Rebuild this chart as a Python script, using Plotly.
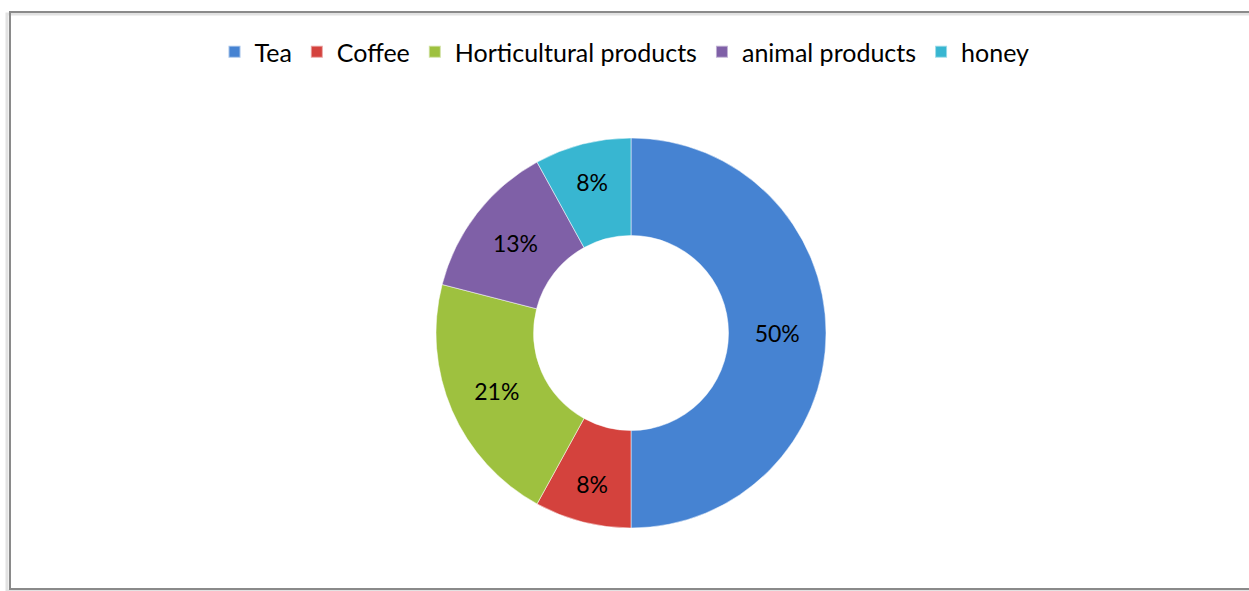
import plotly.graph_objects as go

categories = ["Tea", "Coffee", "Horticultural products", "animal products", "honey"]
values = [50, 8, 21, 13, 8]
colors = ["#4683d2", "#d4423d", "#9ec13f", "#7f60a7", "#38b6d1"]

W, H = 1249, 591
cx, cy, r = 631, 333, 195

fig = go.Figure(go.Pie(
    labels=categories,
    values=values,
    sort=False,
    direction="clockwise",
    rotation=0,
    hole=0.5,
    marker=dict(colors=colors, line=dict(color="rgba(255,255,255,0.5)", width=1)),
    texttemplate="%{percent:.0%}",
    textposition="inside",
    insidetextorientation="horizontal",
    textfont=dict(family="Lato, Carlito, sans-serif", size=23, color="#000000"),
    domain=dict(x=[(cx - r) / W, (cx + r) / W], y=[(H - cy - r) / H, (H - cy + r) / H]),
))

fig.update_layout(
    width=W, height=H,
    margin=dict(l=0, r=0, t=0, b=0),
    paper_bgcolor="white",
    plot_bgcolor="white",
    showlegend=True,
    legend=dict(
        orientation="h",
        x=0.5, xanchor="center",
        y=(H - 52) / H, yanchor="middle",
        font=dict(family="Lato, Carlito, sans-serif", size=25, color="#000000"),
        itemsizing="constant",
        traceorder="normal",
        itemwidth=30,
    ),
    shapes=[
        dict(type="rect", xref="paper", yref="paper",
             x0=7 / W, x1=1.05, y0=(H - 591) / H, y1=(H - 14) / H,
             line=dict(color="#e2e2e2", width=3), fillcolor="rgba(0,0,0,0)", layer="below"),
        dict(type="rect", xref="paper", yref="paper",
             x0=10 / W, x1=1.05, y0=(H - 589) / H, y1=(H - 12) / H,
             line=dict(color="#8a8a8a", width=2), fillcolor="rgba(0,0,0,0)", layer="below"),
    ],
)

fig.write_html(
    "out.html",
    config={"displayModeBar": False},
    post_script="document.body.style.margin='0';document.body.style.overflow='hidden';",
)
